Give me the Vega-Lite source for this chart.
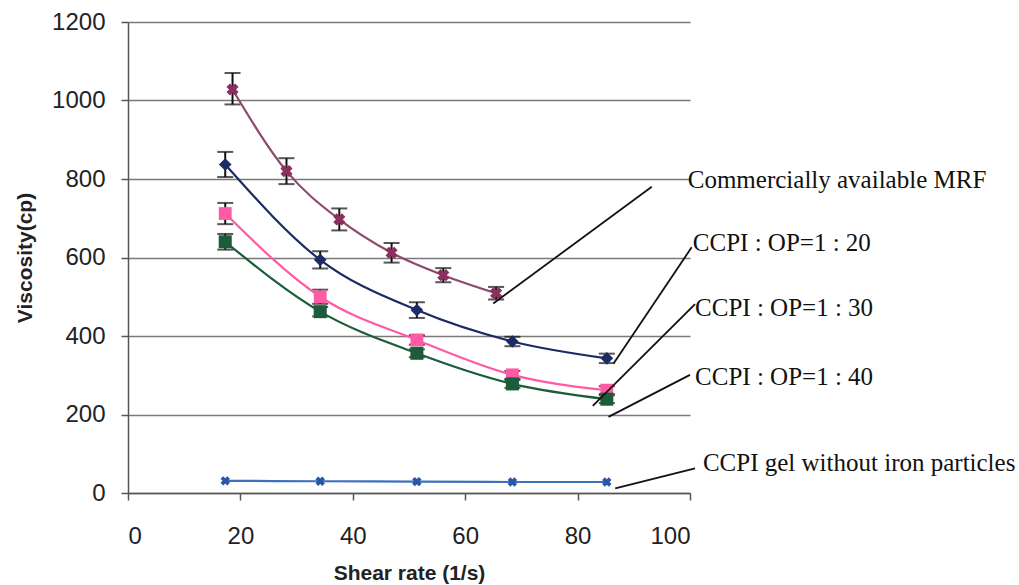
{
  "$schema": "https://vega.github.io/schema/vega-lite/v6.json",
  "autosize": "none",
  "width": 562,
  "height": 471,
  "padding": {"left": 128, "top": 22, "right": 329, "bottom": 92},
  "background": "white",
  "config": {
    "view": {"stroke": null},
    "axis": {
      "labelFont": "Liberation Sans",
      "titleFont": "Liberation Sans",
      "labelColor": "#222",
      "titleColor": "#222",
      "domainColor": "#555",
      "tickColor": "#555",
      "domainWidth": 1.5,
      "tickWidth": 1.5
    }
  },
  "datasets": {
    "pts": [
      {"series": "MRF", "x": 18.6, "y": 1028, "lo": 990, "hi": 1070},
      {"series": "MRF", "x": 28.2, "y": 820, "lo": 787, "hi": 853},
      {"series": "MRF", "x": 37.6, "y": 697, "lo": 669, "hi": 725},
      {"series": "MRF", "x": 46.9, "y": 612, "lo": 587, "hi": 637},
      {"series": "MRF", "x": 56.1, "y": 555, "lo": 537, "hi": 573},
      {"series": "MRF", "x": 65.5, "y": 509, "lo": 493, "hi": 525},
      {"series": "1:20", "x": 17.3, "y": 837, "lo": 805, "hi": 869},
      {"series": "1:20", "x": 34.2, "y": 594, "lo": 572, "hi": 616},
      {"series": "1:20", "x": 51.4, "y": 466, "lo": 446, "hi": 486},
      {"series": "1:20", "x": 68.4, "y": 386, "lo": 374, "hi": 398},
      {"series": "1:20", "x": 85.2, "y": 343, "lo": 331, "hi": 355},
      {"series": "1:30", "x": 17.3, "y": 712, "lo": 685, "hi": 739},
      {"series": "1:30", "x": 34.2, "y": 500, "lo": 482, "hi": 518},
      {"series": "1:30", "x": 51.4, "y": 390, "lo": 378, "hi": 402},
      {"series": "1:30", "x": 68.4, "y": 301, "lo": 291, "hi": 311},
      {"series": "1:30", "x": 85.2, "y": 262, "lo": 252, "hi": 272},
      {"series": "1:40", "x": 17.3, "y": 640, "lo": 620, "hi": 660},
      {"series": "1:40", "x": 34.2, "y": 462, "lo": 450, "hi": 474},
      {"series": "1:40", "x": 51.4, "y": 356, "lo": 346, "hi": 366},
      {"series": "1:40", "x": 68.4, "y": 278, "lo": 268, "hi": 288},
      {"series": "1:40", "x": 85.2, "y": 239, "lo": 229, "hi": 249},
      {"series": "gel", "x": 17.3, "y": 31},
      {"series": "gel", "x": 34.2, "y": 30},
      {"series": "gel", "x": 51.4, "y": 29},
      {"series": "gel", "x": 68.4, "y": 28},
      {"series": "gel", "x": 85.2, "y": 28}
    ],
    "leaders": [
      {"x": 65.0, "y": 483, "x2": 93.2, "y2": 780},
      {"x": 86.4, "y": 330, "x2": 100.3, "y2": 626},
      {"x": 82.7, "y": 222, "x2": 100.9, "y2": 481},
      {"x": 85.5, "y": 194, "x2": 100.0, "y2": 301},
      {"x": 86.7, "y": 12, "x2": 100.9, "y2": 63}
    ],
    "labels": [
      {"x": 99.6, "y": 797, "text": "Commercially available MRF"},
      {"x": 100.5, "y": 637, "text": "CCPI : OP=1 : 20"},
      {"x": 100.9, "y": 471, "text": "CCPI : OP=1 : 30"},
      {"x": 100.9, "y": 295, "text": "CCPI : OP=1 : 40"},
      {"x": 102.3, "y": 76, "text": "CCPI gel without iron particles"}
    ]
  },
  "layer": [
    {
      "data": {"name": "pts"},
      "transform": [{"filter": "datum.lo != null"}],
      "mark": {"type": "errorbar", "ticks": {"size": 16, "thickness": 2}, "color": "#111", "thickness": 2},
      "encoding": {
        "x": {"field": "x", "type": "quantitative", "scale": {"domain": [0, 100]},
          "axis": {"title": "Shear rate (1/s)", "values": [0, 20, 40, 60, 80, 100], "grid": false,
            "labelFontSize": 24, "titleFontSize": 21, "titleFontWeight": "bold",
            "tickSize": 7, "labelPadding": 24, "titlePadding": 14}},
        "y": {"field": "lo", "type": "quantitative", "scale": {"domain": [0, 1200]},
          "axis": {"title": "Viscosity(cp)", "values": [0, 200, 400, 600, 800, 1000, 1200], "format": "d",
            "grid": true, "gridColor": "#7a7a7a", "gridWidth": 1.5,
            "labelFontSize": 24, "titleFontSize": 21, "titleFontWeight": "bold",
            "tickSize": 7, "labelPadding": 16, "titlePadding": 16}},
        "y2": {"field": "hi"}
      }
    },
    {
      "data": {"name": "pts"},
      "mark": {"type": "line", "interpolate": "monotone", "strokeWidth": 2.2},
      "encoding": {
        "x": {"field": "x", "type": "quantitative"},
        "y": {"field": "y", "type": "quantitative"},
        "color": {"field": "series", "type": "nominal", "legend": null,
          "scale": {"domain": ["MRF", "1:20", "1:30", "1:40", "gel"],
            "range": ["#8e4a6c", "#1c2a66", "#ff5aa5", "#1d5c3a", "#3f70c0"]}},
        "strokeWidth": {"field": "series", "type": "nominal", "legend": null,
          "scale": {"domain": ["MRF", "1:20", "1:30", "1:40", "gel"], "range": [2, 2.4, 2.4, 2.2, 3]}}
      }
    },
    {
      "data": {"name": "pts"},
      "transform": [{"filter": "datum.series != 'MRF' && datum.series != 'gel'"}],
      "mark": {"type": "point", "filled": true, "opacity": 1},
      "encoding": {
        "x": {"field": "x", "type": "quantitative"},
        "y": {"field": "y", "type": "quantitative"},
        "shape": {"field": "series", "type": "nominal", "legend": null,
          "scale": {"domain": ["1:20", "1:30", "1:40"], "range": ["diamond", "square", "square"]}},
        "size": {"field": "series", "type": "nominal", "legend": null,
          "scale": {"domain": ["1:20", "1:30", "1:40"], "range": [160, 170, 170]}},
        "color": {"field": "series", "type": "nominal", "legend": null}
      }
    },
    {
      "data": {"name": "pts"},
      "transform": [{"filter": "datum.series == 'MRF'"}],
      "mark": {"type": "point", "shape": "cross", "angle": 45, "filled": true, "size": 150, "color": "#8a2f5e", "opacity": 1},
      "encoding": {
        "x": {"field": "x", "type": "quantitative"},
        "y": {"field": "y", "type": "quantitative"}
      }
    },
    {
      "data": {"name": "pts"},
      "transform": [{"filter": "datum.series == 'gel'"}],
      "mark": {"type": "point", "shape": "cross", "angle": 45, "filled": true, "size": 90, "color": "#2857a8", "opacity": 1},
      "encoding": {
        "x": {"field": "x", "type": "quantitative"},
        "y": {"field": "y", "type": "quantitative"}
      }
    },
    {
      "data": {"name": "leaders"},
      "mark": {"type": "rule", "color": "#111", "strokeWidth": 1.8},
      "encoding": {
        "x": {"field": "x", "type": "quantitative"},
        "y": {"field": "y", "type": "quantitative"},
        "x2": {"field": "x2"},
        "y2": {"field": "y2"}
      }
    },
    {
      "data": {"name": "labels"},
      "mark": {"type": "text", "align": "left", "baseline": "middle", "font": "Liberation Serif", "fontSize": 25, "color": "#111"},
      "encoding": {
        "x": {"field": "x", "type": "quantitative"},
        "y": {"field": "y", "type": "quantitative"},
        "text": {"field": "text"}
      }
    }
  ]
}
